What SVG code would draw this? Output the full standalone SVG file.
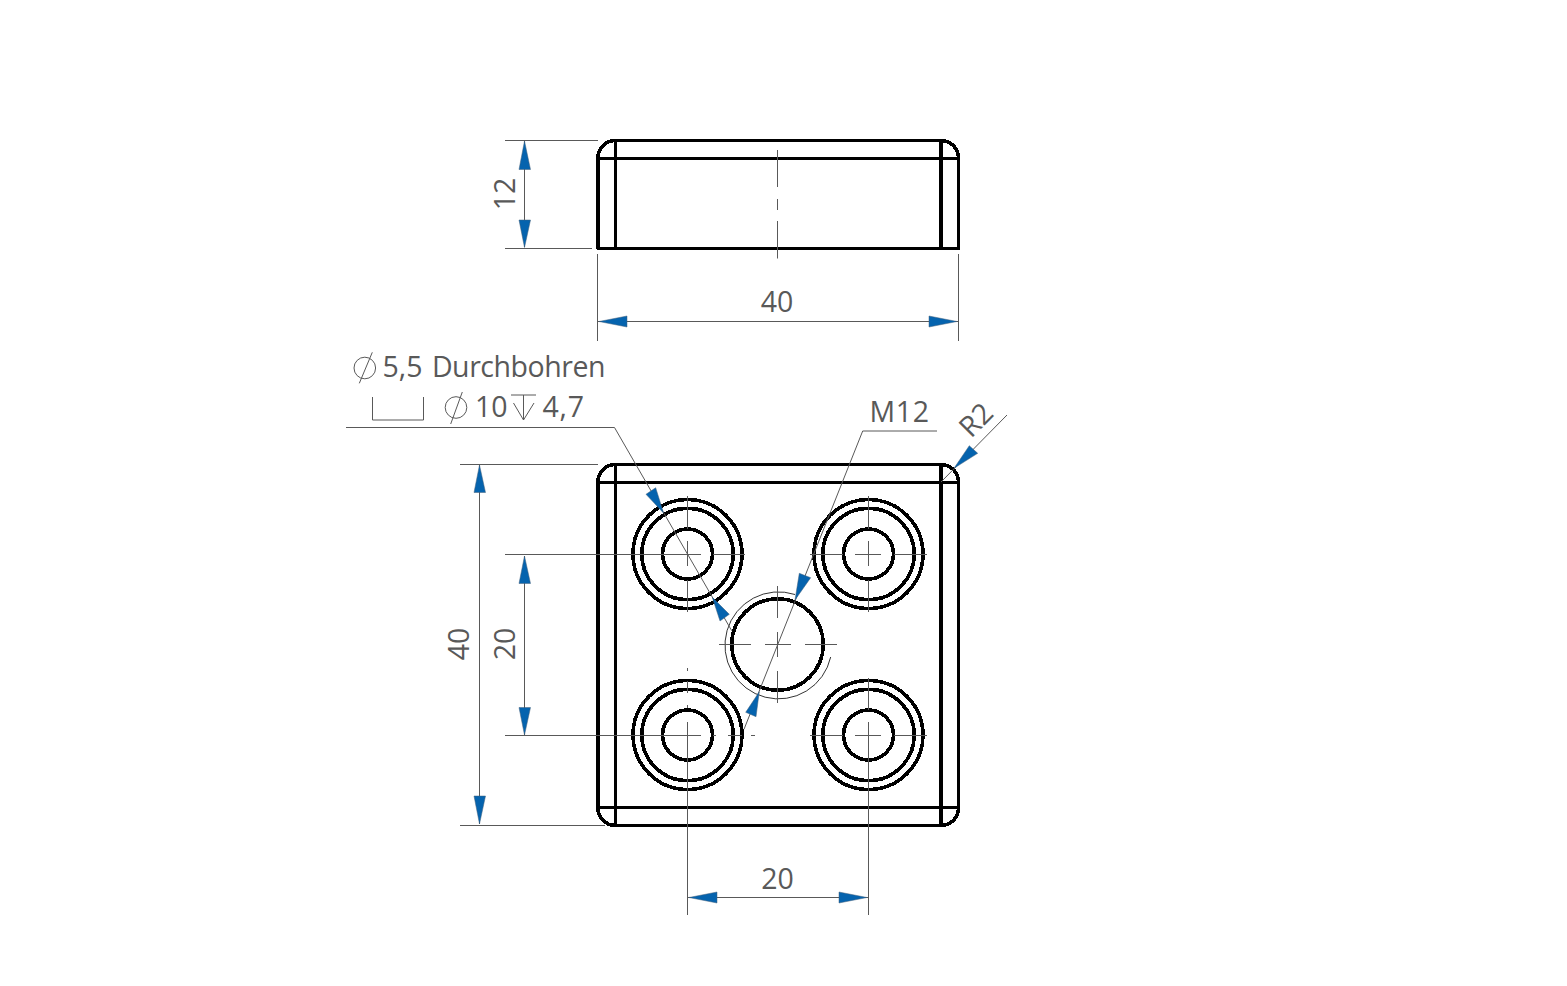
<svg xmlns="http://www.w3.org/2000/svg" xmlns:xlink="http://www.w3.org/1999/xlink" width="1567" height="986" viewBox="0 0 1567 986">
<style>
.o{fill:none;stroke:#000;stroke-width:3.6;stroke-linecap:square;stroke-linejoin:round;shape-rendering:crispEdges}
.t{fill:none;stroke:#595959;stroke-width:1}
.b{fill:none;stroke:#000;stroke-width:.8}
.a{fill:#0563ae;stroke:#44607a;stroke-width:.5}
text{font-family:"Open Sans","Noto Sans","DejaVu Sans",sans-serif;font-size:28.5px;fill:#595959}
</style>
<defs>
<g id="rings"><circle class="o" r="54.5"/><circle class="o" r="45.7"/><circle class="o" r="25"/></g>
</defs>
<rect width="1567" height="986" fill="#fff"/>
<g id="side-view">
<path class="o" d="M598 248.5V158A17.5 17.5 0 0 1 615.5 140.5H941A17.5 17.5 0 0 1 958.5 158V248.5Z"/>
<path class="o" d="M615.5 140.5V248.5M941 140.5V248.5M598 158.5H958.5"/>
<path class="t" d="M777.5 150V187M777.5 199V210M777.5 221V258.5"/>
</g>
<g id="side-dims">
<path class="t" d="M505 140.5H598M505 248.5H592M524.5 141V247M597.5 254V341M958.5 254V341M598 321.5H958"/>
<polygon class="a" points="524.5,141 519,169.5 530.5,169.5"/>
<polygon class="a" points="524.5,247.5 519,220 530.5,220"/>
<polygon class="a" points="599,321.5 627,316 627,327"/>
<polygon class="a" points="957,321.5 929,316 929,327"/>
<text text-anchor="middle" x="777" y="312">40</text>
<text text-anchor="middle" transform="translate(515,194) rotate(-90)">12</text>
</g>
<g id="plan-view">
<path class="o" d="M598 482A17.5 17.5 0 0 1 615.5 464.5H941A17.5 17.5 0 0 1 958.5 482V808A17.5 17.5 0 0 1 941 825.5H615.5A17.5 17.5 0 0 1 598 808Z"/>
<path class="o" d="M615.5 464.5V825.5M941 464.5V825.5M598 482.5H958.5M598 807.5H958.5"/>
</g>
<g id="hole-top-left">
<use href="#rings" xlink:href="#rings" x="687.5" y="554"/>
<path class="t" d="M687.5 496V529M687.5 541V566M687.5 580V612M505 554.5H701M713 554.5H745"/>
</g>
<g id="hole-top-right">
<use href="#rings" xlink:href="#rings" x="868.5" y="554"/>
<path class="t" d="M868.5 496V529M868.5 541V566M868.5 580V612M810 554.5H843M855 554.5H881M894 554.5H927"/>
</g>
<g id="hole-bottom-left">
<use href="#rings" xlink:href="#rings" x="687.5" y="735"/>
<path class="t" d="M687.5 668V671M687.5 681V693M687.5 705V708M687.5 722V915M505 735.5H701M713 735.5H716M728 735.5H742M751 735.5H755"/>
</g>
<g id="hole-bottom-right">
<use href="#rings" xlink:href="#rings" x="868.5" y="735"/>
<path class="t" d="M868.5 678V710M868.5 722V915M810 735.5H843M855 735.5H881M894 735.5H927"/>
</g>
<g id="thread-hole">
<circle class="o" cx="777.5" cy="644.5" r="45.7"/>
<path class="b" d="M830.7 657A53.5 53.5 0 1 1 795 594.5"/>
<path class="t" d="M719 644.5H751M765 644.5H791M805 644.5H837M777.5 586V618M777.5 632V657M777.5 671V703"/>
</g>
<g id="plan-dims">
<path class="t" d="M460 464.5H598M460 825.5H605M479.5 465V824M524.5 556V735M687.5 897.5H868.5"/>
<polygon class="a" points="479.5,465 474,492.5 485.5,492.5"/>
<polygon class="a" points="479.5,824 474,796 485.5,796"/>
<polygon class="a" points="524.5,556 519,583.5 530.5,583.5"/>
<polygon class="a" points="524.5,735 519,707.5 530.5,707.5"/>
<polygon class="a" points="689,897.5 717,892 717,903"/>
<polygon class="a" points="867,897.5 839,892 839,903"/>
<text text-anchor="middle" x="777.5" y="888.5">20</text>
<text text-anchor="middle" transform="translate(469,644) rotate(-90)">40</text>
<text text-anchor="middle" transform="translate(515,644) rotate(-90)">20</text>
</g>
<g id="leader-bore">
<path class="t" d="M346 427.5H614.5L731.7 630.7"/>
<polygon class="a" points="663.5,513 646,494.3 655.7,487.7"/>
<polygon class="a" points="712.3,597.3 720,621 729.3,614.3"/>
<circle class="t" cx="364.8" cy="368" r="10.8"/>
<path class="t" d="M372.3 352.3L359.3 383.3"/>
<text x="382.5" y="377">5,5 <tspan dx="2" letter-spacing="-.45">Durchbohren</tspan></text>
<path class="t" d="M372.5 397V420H423.5V397"/>
<circle class="t" cx="456" cy="407.5" r="10.8"/>
<path class="t" d="M462.3 392L450.7 424"/>
<text x="475" y="417">10</text>
<path class="t" d="M511 395H536M523.5 395V420M513.5 403L523.5 420L534 403"/>
<text x="542.5" y="417" letter-spacing=".8">4,7</text>
</g>
<g id="leader-m12">
<path class="t" d="M937 431H862.7L744 729.3"/>
<polygon class="a" points="795,600 799.3,573.3 810.7,577.7"/>
<polygon class="a" points="759.3,691.7 745.7,712.3 756,716.7"/>
<text x="869.5" y="421.5" letter-spacing=".7">M12</text>
</g>
<g id="leader-r2">
<path class="t" d="M1007 415L941 482"/>
<polygon class="a" points="954,468.3 969.3,445.7 977.7,453.3"/>
<text text-anchor="middle" transform="translate(983,427) rotate(-45)">R2</text>
</g>
</svg>
